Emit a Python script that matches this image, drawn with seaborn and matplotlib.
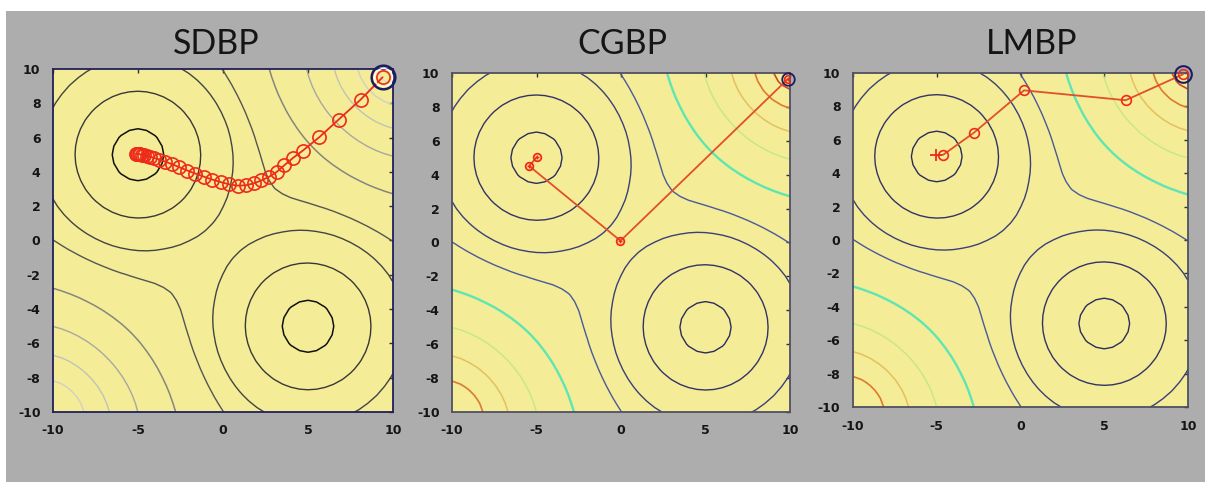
import numpy as np
import matplotlib
matplotlib.use("Agg")
import matplotlib.pyplot as plt
from matplotlib.patches import Rectangle
import seaborn as sns

# ---------------- data ----------------
titles = ["SDBP", "CGBP", "LMBP"]

# performance-surface description (two wells, two corner hills)
well_x = [-5.0, 5.0]
well_y = [5.0, -5.0]
well_depth = [1.0, 1.0]
well_width = 3.0
hill_x = [10.0, -10.0]
hill_y = [10.0, -10.0]
hill_height = [1.03, 1.0]
hill_width_diag = 3.6
hill_width_perp = 4.6
grid_ticks = np.linspace(-10, 10, 41)

contour_levels = [-0.88, -0.467, -0.164, -0.02, 0.19, 0.46, 0.71, 0.90, 1.0]
gray_colors = ["#101010", "#383838", "#444444", "#555555", "#868680",
               "#a8a8a0", "#c2c2b8", "#d0d0c6", "#dadad0"]
jet_colors = ["#2c2c5c", "#333368", "#3a4078", "#4a5a9a", "#5ee6b2",
              "#c6e68c", "#e4c060", "#dc7a30", "#c84a28"]
gray_widths = [1.1, 1.0, 1.0, 1.0, 1.1, 1.0, 1.0, 1.0, 1.0]
jet_widths = [1.0, 1.0, 1.0, 1.0, 1.7, 1.0, 1.1, 1.2, 1.2]

# trajectories
sdbp_x = [9.39, 8.10, 6.80, 5.66, 4.69, 4.10, 3.60, 3.16, 2.72, 2.25, 1.80,
          1.35, 0.88, 0.38, -0.12, -0.62, -1.12, -1.62, -2.10, -2.56, -3.00,
          -3.40, -3.75, -4.05, -4.30, -4.50, -4.66, -4.79, -4.89, -4.97,
          -5.03, -5.08, -5.12]
sdbp_y = [9.52, 8.22, 7.05, 6.02, 5.24, 4.80, 4.38, 4.00, 3.72, 3.50, 3.33,
          3.22, 3.20, 3.27, 3.40, 3.55, 3.72, 3.90, 4.08, 4.27, 4.45,
          4.60, 4.72, 4.82, 4.89, 4.94, 4.98, 5.01, 5.03, 5.04,
          5.05, 5.06, 5.06]
cgbp_x = [9.88, -0.03, -5.43, -4.98]
cgbp_y = [9.65, 0.10, 4.51, 5.04]
lmbp_x = [9.70, 6.28, 0.21, -2.80, -4.62, -5.06]
lmbp_y = [9.92, 8.37, 8.96, 6.41, 5.10, 5.07]

x_ticks = [-10, -5, 0, 5, 10]
y_ticks = [-10, -8, -6, -4, -2, 0, 2, 4, 6, 8, 10]

# ---------------- figure ----------------
sns.set_theme(style="white")
plt.rcParams["font.family"] = ["DejaVu Sans"]
plt.rcParams["axes.unicode_minus"] = False

W, H = 1205, 482
fig = plt.figure(figsize=(W / 100, H / 100), dpi=100, facecolor="white")
fig.patches.append(Rectangle((6 / W, 0), 1, 1 - 11 / H, transform=fig.transFigure,
                             facecolor="#adadad", edgecolor="none", zorder=-10))

boxes = [(53, 69, 393, 412), (452, 73, 790, 412), (853, 73, 1188, 407)]
title_cx = [216, 622, 1032]
title_base = 54

X, Y = np.meshgrid(grid_ticks, grid_ticks)
Z = np.zeros_like(X)
for cx, cy, d in zip(well_x, well_y, well_depth):
    Z -= d * np.exp(-((X - cx) ** 2 + (Y - cy) ** 2) / (2 * well_width ** 2))
for cx, cy, h in zip(hill_x, hill_y, hill_height):
    u = ((X - cx) + (Y - cy)) / np.sqrt(2)
    v = ((X - cx) - (Y - cy)) / np.sqrt(2)
    Z += h * np.exp(-u ** 2 / (2 * hill_width_diag ** 2)
                    - v ** 2 / (2 * hill_width_perp ** 2))

axes = []
for i, (l, t, r, b) in enumerate(boxes):
    ax = fig.add_axes([l / W, 1 - b / H, (r - l) / W, (b - t) / H])
    ax.set_facecolor("#f4ec96")
    cols = gray_colors if i == 0 else jet_colors
    lws = gray_widths if i == 0 else jet_widths
    ax.contour(X, Y, Z, levels=contour_levels, colors=cols,
               linewidths=lws, zorder=1)
    ax.set_xlim(-10, 10)
    ax.set_ylim(-10, 10)
    ax.set_xticks(x_ticks)
    ax.set_yticks(y_ticks)
    ax.tick_params(direction="in", top=True, right=True, length=3, width=1,
                   colors="#303040", labelcolor="#151515", labelsize=9, pad=9)
    for lab in ax.get_xticklabels() + ax.get_yticklabels():
        lab.set_fontweight("bold")
    spine_col = "#20205a" if i == 0 else "#505060"
    for s in ax.spines.values():
        s.set_color(spine_col)
        s.set_linewidth(1.3)
    fig.text(title_cx[i] / W, 1 - title_base / H, titles[i], ha="center",
             va="baseline", fontsize=24.5, family=["Lato", "DejaVu Sans"],
             color="#151515")
    axes.append(ax)

red = "#ee2a1a"
line_red = "#e0502a"
navy = "#1c1c64"

# SDBP
ax = axes[0]
sns.lineplot(x=sdbp_x, y=sdbp_y, sort=False, estimator=None, ax=ax,
             color=red, linewidth=1.3, marker="o", markersize=9.5,
             markerfacecolor="none", markeredgecolor=red, markeredgewidth=1.2,
             zorder=3)
ax.plot(sdbp_x[:1], sdbp_y[:1], "o", ms=17, mfc="none", mec=navy, mew=1.8,
        zorder=4, clip_on=False)
ax.plot(sdbp_x[:1], sdbp_y[:1], "o", ms=13, mfc="none", mec="white", mew=1.0,
        zorder=4, clip_on=False)

# CGBP
ax = axes[1]
sns.lineplot(x=cgbp_x, y=cgbp_y, sort=False, estimator=None, ax=ax,
             color=line_red, linewidth=1.3, marker="o", markersize=5.5,
             markerfacecolor="none", markeredgecolor=red, markeredgewidth=1.3,
             zorder=3)
ax.plot(cgbp_x, cgbp_y, "+", ms=3.5, color=red, mew=1.0, zorder=4)
ax.plot(cgbp_x[:1], cgbp_y[:1], "o", ms=9, mfc="none", mec=navy, mew=1.3,
        zorder=4, clip_on=False)

# LMBP
ax = axes[2]
sns.lineplot(x=lmbp_x, y=lmbp_y, sort=False, estimator=None, ax=ax,
             color=line_red, linewidth=1.3, zorder=3)
ax.plot(lmbp_x[:-1], lmbp_y[:-1], "o", ms=7, mfc="none", mec=red, mew=1.2,
        zorder=4, clip_on=False)
ax.plot(lmbp_x[-1:], lmbp_y[-1:], "+", ms=8, color=red, mew=1.3, zorder=4)
ax.plot(lmbp_x[:1], lmbp_y[:1], "o", ms=12, mfc="none", mec=navy, mew=1.5,
        zorder=4, clip_on=False)

fig.savefig("out.png", dpi=100, facecolor=fig.get_facecolor())
